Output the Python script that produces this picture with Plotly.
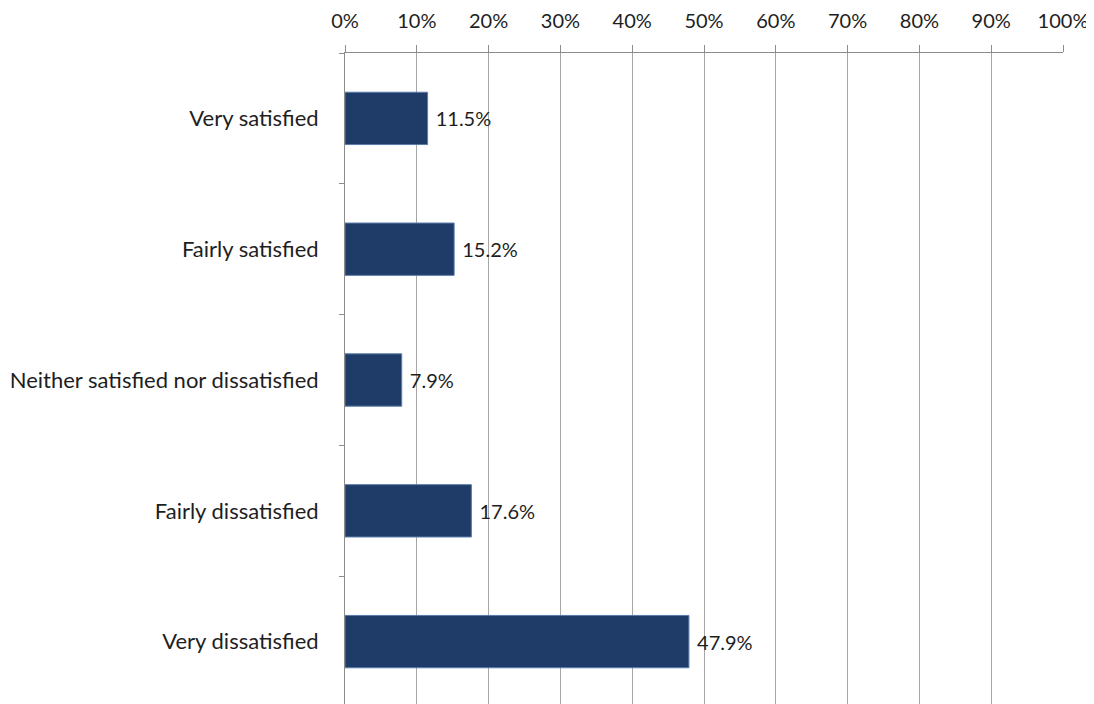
import plotly.graph_objects as go

# survey answers, top to bottom
categories = [
    "Very satisfied",
    "Fairly satisfied",
    "Neither satisfied nor dissatisfied",
    "Fairly dissatisfied",
    "Very dissatisfied",
]
shares = [11.5, 15.2, 7.9, 17.6, 47.9]
x_ticks = list(range(0, 101, 10))

font_family = "Lato, Carlito, 'Open Sans', sans-serif"
text_color = "#1E1E1E"

fig = go.Figure()

fig.add_trace(go.Bar(
    x=shares, y=categories, orientation="h",
    width=0.4,
    marker=dict(color="#1F3C68", line=dict(color="#5A7BAA", width=1)),
    text=[f" {v:.1f}%" for v in shares],
    textposition="outside",
    textfont=dict(size=20, color=text_color, family=font_family),
    cliponaxis=False,
    hoverinfo="x+y",
))

fig.update_xaxes(
    side="top", range=[0, 100],
    tickvals=x_ticks, ticktext=[f"{t}%" for t in x_ticks],
    showgrid=True, gridcolor="#A6A6A6", gridwidth=1,
    showline=True, linecolor="#8C8C8C", linewidth=1,
    ticks="outside", ticklen=7, tickcolor="#8C8C8C",
    ticklabelstandoff=9,
    tickfont=dict(size=20, color=text_color, family=font_family),
    zeroline=False,
)

fig.update_yaxes(
    categoryorder="array", categoryarray=categories,
    range=[4.477, -0.5],
    tickson="boundaries",
    ticks="outside", ticklen=5, tickcolor="#8C8C8C",
    showline=True, linecolor="#8C8C8C", linewidth=1,
    showgrid=False,
    ticklabelstandoff=21,
    tickfont=dict(size=22, color=text_color, family=font_family),
)

# the page body has an 8px margin, so the figure is shrunk by that much
fig.update_layout(
    width=1086, height=696,
    margin=dict(l=337, r=31, t=43, b=0),
    paper_bgcolor="white", plot_bgcolor="white",
    showlegend=False,
)

fig.write_html("out.html")
